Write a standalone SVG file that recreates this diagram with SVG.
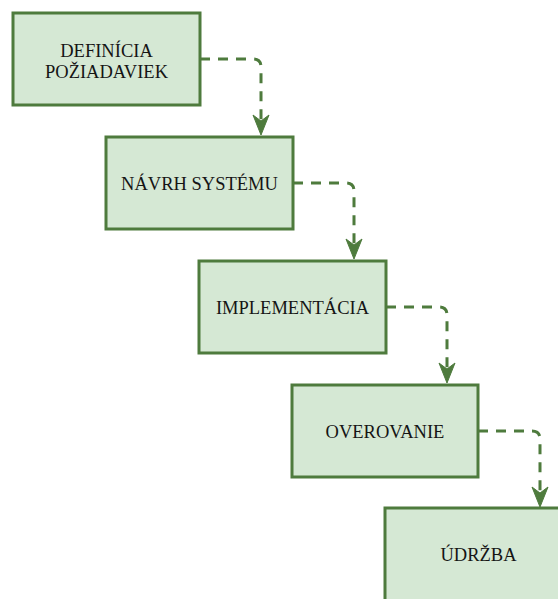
<svg xmlns="http://www.w3.org/2000/svg" width="558" height="599" viewBox="0 0 558 599">
<style>
.box{fill:#d5e8d4;stroke:#4e7b3d;stroke-width:3}
.lbl{font-family:"Liberation Serif","Times New Roman",serif;font-size:18.5px;fill:#151515;text-anchor:middle}
.con{fill:none;stroke:#4e7b3d;stroke-width:3;stroke-dasharray:10 8}
.ah{fill:#4e7b3d;stroke:#4e7b3d;stroke-width:1;stroke-linejoin:miter}
</style>
<rect width="558" height="599" fill="#ffffff"/>
<g id="connectors">
<path class="con" d="M200,59 H253 Q261,59 261,67 V121"/>
<path class="ah" d="M261,135 L253,115 L261,121 L269,115 Z"/>
<path class="con" d="M293,183 H346 Q354,183 354,191 V245"/>
<path class="ah" d="M354,259 L346,239 L354,245 L362,239 Z"/>
<path class="con" d="M386,307 H439 Q447,307 447,315 V369"/>
<path class="ah" d="M447,383 L439,363 L447,369 L455,363 Z"/>
<path class="con" d="M478,431 H532 Q540,431 540,439 V493"/>
<path class="ah" d="M540,507 L532,487 L540,493 L548,487 Z"/>
</g>
<g id="node1">
<rect class="box" x="13" y="13" width="187" height="92"/>
<text class="lbl" x="106.5" y="57">DEFINÍCIA</text>
<text class="lbl" x="106.5" y="78">POŽIADAVIEK</text>
</g>
<g id="node2">
<rect class="box" x="106" y="137" width="187" height="92"/>
<text class="lbl" x="199.5" y="189.5">NÁVRH SYSTÉMU</text>
</g>
<g id="node3">
<rect class="box" x="199" y="261" width="187" height="92"/>
<text class="lbl" x="292.5" y="313.5">IMPLEMENTÁCIA</text>
</g>
<g id="node4">
<rect class="box" x="292" y="385" width="186" height="92"/>
<text class="lbl" x="385" y="437.5">OVEROVANIE</text>
</g>
<g id="node5">
<rect class="box" x="385" y="508" width="187" height="93"/>
<text class="lbl" x="478.5" y="561">ÚDRŽBA</text>
</g>
</svg>
